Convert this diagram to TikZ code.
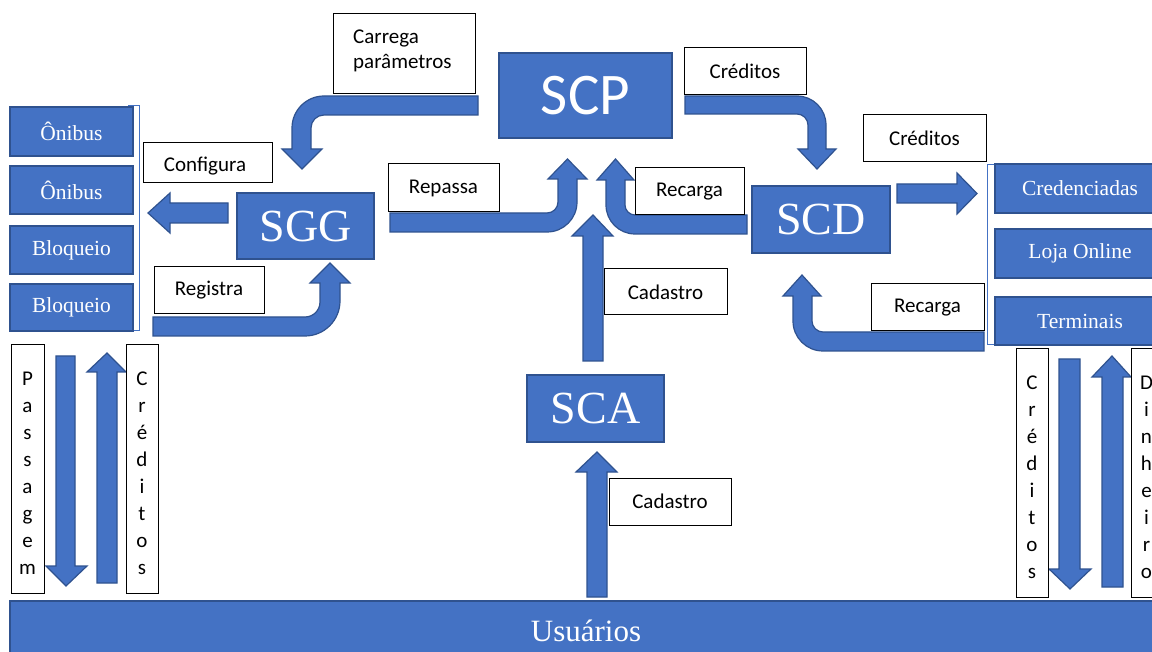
\documentclass[tikz,border=0pt]{standalone}
\usepackage{fontspec}
\setmainfont{Liberation Serif}
\newfontfamily\calib{Carlito}
\definecolor{fillb}{HTML}{4472C4}
\definecolor{bdr}{HTML}{2F528F}
\newcommand\mybox[7]{%
 \pgfmathsetmacro\bxcx{(#3+#5)/2}\pgfmathsetmacro\bxcy{(#4+#6)/2}%
 \pgfmathsetmacro\bxww{#5-#3}\pgfmathsetmacro\bxhh{#6-#4}%
 \node[#1, minimum width=\bxww pt, minimum height=\bxhh pt] (#2) at (\bxcx,\bxcy) {#7};}
\begin{document}
\begin{tikzpicture}[x=1pt,y=-1pt,
 bbox/.style={draw=bdr, fill=fillb, line width=1.3pt, text=white, inner sep=0pt, outer sep=0pt},
 lbox/.style={draw=black, fill=white, line width=1pt, inner sep=0pt, outer sep=0pt, font=\calib\fontsize{21}{24}\selectfont},
 lbl/.style={font=\calib\fontsize{21}{24}\selectfont, inner sep=0pt},
 barr/.style={draw=bdr, fill=fillb, line width=1.2pt},
 brk/.style={draw=fillb, line width=1pt},
 small/.style={font=\fontsize{21.5}{25}\selectfont},
 big/.style={font=\fontsize{46}{50}\selectfont},
 vert/.style={align=center, inner sep=0pt, font=\calib\fontsize{21}{27}\selectfont}]
\useasboundingbox (0,0) rectangle (1152,652);
\fill[white] (0,0) rectangle (1152,652);

% ---- block arrows ----
% Configura (SGG -> Onibus)
\draw[barr] (228,203) -- (170,203) -- (170,193) -- (148,213) -- (170,233) -- (170,223) -- (228,223) -- cycle;
% Registra (bent up to SGG)
\draw[barr] (153,317) -- (305,317) .. controls (313.3,317) and (320,310.3) .. (320,302) -- (320,283) -- (310,283) -- (330,263) -- (350,283) -- (340,283) -- (340,301) .. controls (340,320.3) and (324.3,336) .. (305,336) -- (153,336) -- cycle;
% Carrega parametros (SCP -> SGG)
\draw[barr] (478,96) -- (324,96) .. controls (306.3,96) and (292,110.3) .. (292,128) -- (292,149) -- (282,149) -- (302,169) -- (322,149) -- (311,149) -- (311,128) .. controls (311,120.8) and (316.8,115) .. (324,115) -- (478,115) -- cycle;
% Repassa (SGG -> SCP)
\draw[barr] (390,213) -- (547,213) .. controls (553.1,213) and (558,208.1) .. (558,202) -- (558,179) -- (548,179) -- (567.5,159) -- (587,179) -- (577,179) -- (577,202) .. controls (577,218.6) and (563.6,232) .. (547,232) -- (390,232) -- cycle;
% Recarga (SCD -> SCP)
\draw[barr] (747,215) -- (635,215) .. controls (629.5,215) and (625,210.5) .. (625,205) -- (625,180) -- (634,180) -- (615.5,159) -- (597,180) -- (606,180) -- (606,205) .. controls (606,221) and (619,234) .. (635,234) -- (747,234) -- cycle;
% Creditos (SCP -> SCD)
\draw[barr] (685,96) -- (797,96) .. controls (813,96) and (826,109) .. (826,125) -- (826,149) -- (836,149) -- (817,169) -- (798,149) -- (808,149) -- (808,125) .. controls (808,119) and (803,114) .. (797,114) -- (685,114) -- cycle;
% Recarga (Terminais -> SCD)
\draw[barr] (984,332) -- (823,332) .. controls (817,332) and (812,327) .. (812,321) -- (812,296) -- (821,296) -- (802,275) -- (783,296) -- (793,296) -- (793,321) .. controls (793,337.6) and (806.4,351) .. (823,351) -- (984,351) -- cycle;
% SCD -> Credenciadas
\draw[barr] (897,184) -- (957,184) -- (957,173) -- (977,193.5) -- (957,214) -- (957,203) -- (897,203) -- cycle;
% Cadastro SCA -> SCP
\draw[barr] (583,361) -- (583,236) -- (572,236) -- (593,215) -- (613,236) -- (603,236) -- (603,361) -- cycle;
% Cadastro Usuarios -> SCA
\draw[barr] (587,597) -- (587,472) -- (576,472) -- (597,452) -- (617,472) -- (607,472) -- (607,597) -- cycle;
% left vertical arrows
\draw[barr] (56,356) -- (75,356) -- (75,566) -- (87,566) -- (66,586) -- (46,566) -- (56,566) -- cycle;
\draw[barr] (97,583) -- (97,372) -- (87,372) -- (107,353) -- (126,372) -- (117,372) -- (117,583) -- cycle;
% right vertical arrows
\draw[barr] (1059,359) -- (1080,359) -- (1080,569) -- (1091,569) -- (1070,589) -- (1049,569) -- (1059,569) -- cycle;
\draw[barr] (1102,587) -- (1102,377) -- (1092,377) -- (1112,356) -- (1131,377) -- (1123,377) -- (1123,587) -- cycle;

% ---- brackets ----
\draw[brk] (128,106) -- (139,106) -- (139,331) -- (129,331);
\draw[brk] (995,165) -- (987,165) -- (987,345) -- (995,345);

% ---- blue boxes ----
\mybox{bbox,small}{on1}{10}{107}{133}{156}{Ônibus}
\mybox{bbox,small}{on2}{10}{166}{133}{214}{Ônibus}
\mybox{bbox,small}{bl1}{10}{226}{133}{274}{Bloqueio}
\mybox{bbox,small}{bl2}{10}{284}{133}{331}{Bloqueio}
\mybox{bbox,big}{sgg}{237}{193}{374}{259}{SGG}
\mybox{bbox,font=\calib\fontsize{59}{62}\selectfont}{scp}{499}{53}{672}{138}{SCP}
\mybox{bbox,big}{scd}{752}{186}{890}{253}{SCD}
\mybox{bbox,big}{sca}{527}{375}{664}{442}{SCA}
\mybox{bbox,small}{cred}{995}{164}{1165}{213}{Credenciadas}
\mybox{bbox,small}{loja}{995}{229}{1165}{278}{Loja Online}
\mybox{bbox,small}{term}{995}{297}{1165}{345}{Terminais}
\mybox{bbox,font=\fontsize{31}{34}\selectfont}{usu}{10}{601}{1162}{661}{Usuários}

% ---- white label boxes ----
\mybox{lbox}{car}{333}{14}{475}{94}{}
\node[lbl,anchor=base west] (cart1) at (353,44) {Carrega};
\node[lbl,anchor=base west] (cart2) at (353,69) {parâmetros};
\mybox{lbox}{cfg}{143}{143}{272}{183}{}
\begin{scope}
\clip (144,144) rectangle (271,174.5);
\node[lbl,anchor=base] (cfgt) at (205,172) {Configura};
\end{scope}
\mybox{lbox}{reg}{154}{267}{264}{314}{Registra}
\mybox{lbox}{rep}{388}{164}{499}{212}{Repassa}
\mybox{lbox}{crd1}{684}{48}{806}{95}{Créditos}
\mybox{lbox}{crd2}{863}{115}{986}{162}{Créditos}
\mybox{lbox}{recm}{635}{168}{744}{215}{Recarga}
\mybox{lbox}{recb}{871}{284}{984}{331}{Recarga}
\mybox{lbox}{cad1}{604}{269}{727}{315}{Cadastro}
\mybox{lbox}{cad2}{609}{478}{731}{525}{Cadastro}
\mybox{lbox}{pas}{11}{345}{44}{593}{}
\node[vert] (past) at (27.5,473) {P\\a\\s\\s\\a\\g\\e\\m};
\mybox{lbox}{crl}{126}{345}{158}{593}{}
\node[vert] (crlt) at (142,473) {C\\r\\é\\d\\i\\t\\o\\s};
\mybox{lbox}{crr}{1016}{349}{1048}{597}{}
\node[vert] (crrt) at (1032,477) {C\\r\\é\\d\\i\\t\\o\\s};
\mybox{lbox}{din}{1131}{349}{1162}{597}{}
\node[vert] (dint) at (1146.5,477) {D\\i\\n\\h\\e\\i\\r\\o};
\end{tikzpicture}
\end{document}
